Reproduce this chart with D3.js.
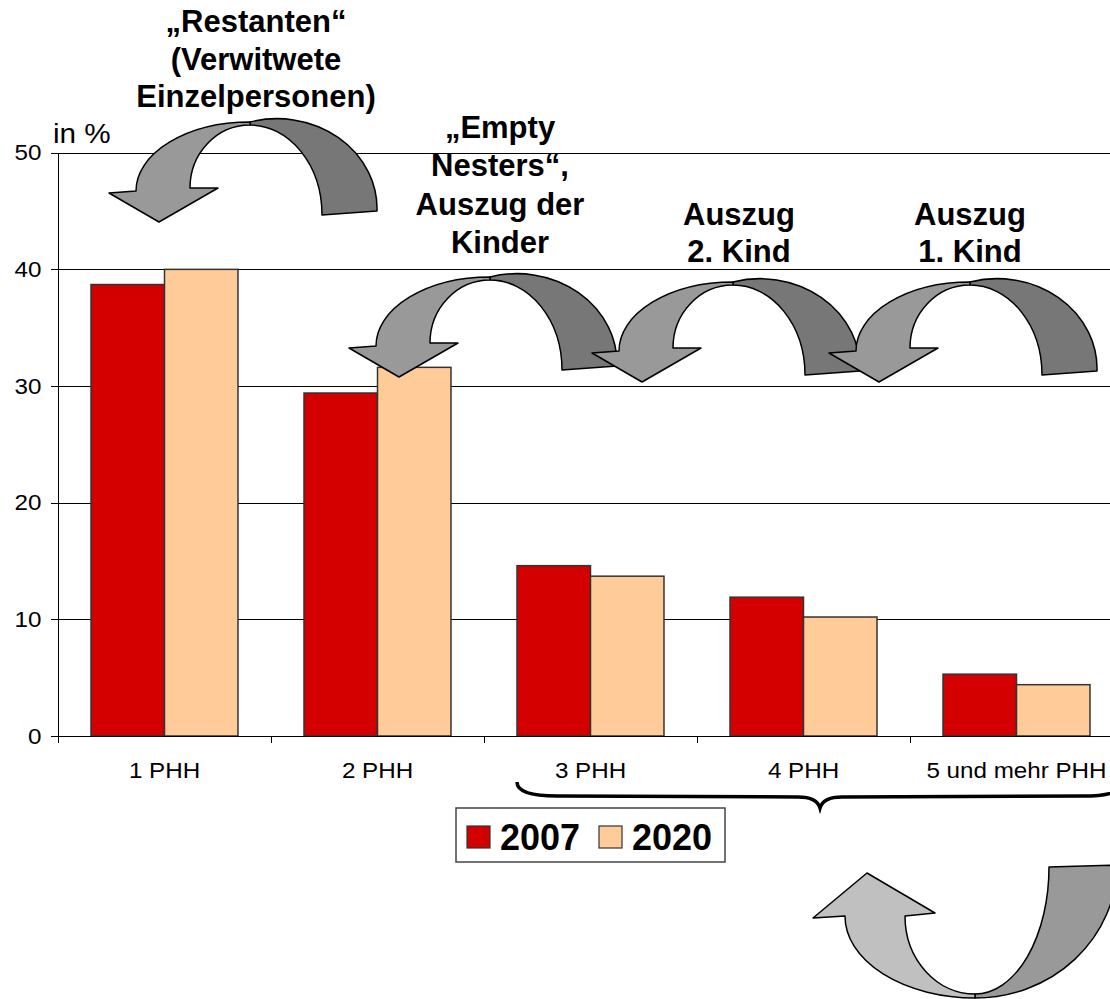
<!DOCTYPE html>
<html lang="de">
<head>
<meta charset="utf-8">
<title>Haushalte 2007 / 2020</title>
<script src="https://cdn.jsdelivr.net/npm/d3@7/dist/d3.min.js"></script>
<style>
  body { margin: 0; background: #fff; }
  text { font-family: "Liberation Sans", Arial, sans-serif; fill: #000; }
  .grille line { stroke: #000; stroke-width: 1px; shape-rendering: crispEdges; }
  .grille path { display: none; }
  .axe path, .axe line { stroke: #000; stroke-width: 1px; shape-rendering: crispEdges; }
  .axe text, .labels text { font-size: 22px; }
  .barre { stroke: #333; stroke-width: 1.5px; }
  .note { font-size: 31px; font-weight: bold; }
  .fleche path { stroke: #000; stroke-width: 1.5px; stroke-linejoin: round; }
</style>
</head>
<body>
<svg width="1110" height="999"></svg>
<script>
// données
const categories = ["1 PHH", "2 PHH", "3 PHH", "4 PHH", "5 und mehr PHH"];
const series = ["2007", "2020"];
const values2007 = [38.7, 29.4, 14.6, 11.9, 5.3];
const values2020 = [40.0, 31.6, 13.7, 10.2, 4.4];
const yTicks = [0, 10, 20, 30, 40, 50];
const seriesColors = ["#d40000", "#ffcc99"];

const notes = [
  ["\u201ERestanten\u201C", "(Verwitwete", "Einzelpersonen)"],
  ["\u201EEmpty", "Nesters\u201C,", "Auszug der", "Kinder"],
  ["Auszug", "2. Kind"],
  ["Auszug", "1. Kind"]
];

const svg = d3.select("svg");

const x0 = d3.scaleBand()
  .domain(categories)
  .range([58, 1123])
  .paddingInner(0.31)
  .paddingOuter(0.155);

const x1 = d3.scaleBand()
  .domain(series)
  .range([0, x0.bandwidth()]);

const xEdge = d3.scaleLinear()
  .domain([0, categories.length])
  .range(x0.range());

const y = d3.scaleLinear()
  .domain([0, 50])
  .range([736, 152.7]);

// grille
svg.append("g")
  .classed("grille", true)
  .attr("transform", "translate(58,0)")
  .call(d3.axisLeft(y).tickValues(yTicks).tickFormat("").tickSize(-(1123 - 58)));

// barres
const table = categories.map((c, i) => ({cat: c, vals: [values2007[i], values2020[i]]}));

svg.append("g")
  .selectAll("g")
  .data(table)
  .enter()
  .append("g")
    .attr("transform", d => "translate(" + x0(d.cat) + ",0)")
  .selectAll("rect")
  .data(d => d.vals.map((v, k) => ({s: series[k], v: v, k: k})))
  .enter()
  .append("rect")
    .classed("barre", true)
    .attr("x", d => x1(d.s))
    .attr("width", x1.bandwidth())
    .attr("y", d => y(d.v))
    .attr("height", d => y(0) - y(d.v))
    .style("fill", d => seriesColors[d.k]);

// axe des ordonnées
const axeY = svg.append("g")
  .classed("axe", true)
  .attr("transform", "translate(58,0)")
  .call(d3.axisLeft(y).tickValues(yTicks).tickSize(7).tickPadding(8).tickSizeOuter(0));
axeY.selectAll("text").attr("transform", "scale(1.1,1)");

// axe des abscisses : traits aux limites des catégories
svg.append("g")
  .classed("axe", true)
  .attr("transform", "translate(0," + y(0) + ")")
  .call(d3.axisBottom(xEdge).tickValues(d3.range(categories.length + 1)).tickFormat("").tickSize(7).tickSizeOuter(0));

const labels = svg.append("g")
  .classed("labels", true)
  .attr("transform", "translate(0," + y(0) + ")")
  .call(d3.axisBottom(x0).tickSize(0));
labels.select(".domain").remove();
labels.selectAll(".tick text")
  .attr("y", 42)
  .attr("dy", null)
  .attr("transform", "scale(1.1,1)");

svg.append("text")
  .attr("transform", "translate(53,143) scale(1.1,1)")
  .style("font-size", "27px")
  .text("in %");

// flèches courbes
const flecheHaut = {
  ro: [114, 69], sho: [-114, 69], lw: [-141, 71], tip: [-91, 100], rw: [-32, 66], shi: [-60, 66],
  ri: [60, 63], gap: 3, dOut: [100, 90], tOut: [127, 89], tIn: [72, 93], dIn: [72, 90]
};
const flecheBas = {
  ro: [130, 82], sho: [-130, 82], lw: [-162, 80], tip: [-108, 125], rw: [-40, 85], shi: [-70, 82],
  ri: [70, 78], gap: 4, dOut: [142, 134], tOut: [142, 133], tIn: [74, 131], dIn: [74, 127]
};

function fleche(g, sx, sy, p, flip, clair, fonce) {
  const grp = g.append("g")
    .classed("fleche", true)
    .attr("transform", "translate(" + sx + "," + sy + ")" + (flip ? " scale(1,-1)" : ""));
  grp.append("path")
    .attr("d", "M0,0 A" + p.dOut + " 0 0 1 " + p.tOut + " L" + p.tIn +
               " A" + p.dIn + " 0 0 0 0," + p.gap + " Z")
    .style("fill", fonce);
  grp.append("path")
    .attr("d", "M0,0 A" + p.ro + " 0 0 0 " + p.sho + " L" + p.lw + " L" + p.tip +
               " L" + p.rw + " L" + p.shi + " A" + p.ri + " 0 0 1 0," + p.gap + " Z")
    .style("fill", clair);
}

const fleches = svg.append("g");
fleche(fleches, 250, 122, flecheHaut, false, "#999999", "#777777");
fleche(fleches, 490, 277, flecheHaut, false, "#999999", "#777777");
fleche(fleches, 733, 282, flecheHaut, false, "#999999", "#777777");
fleche(fleches, 970, 282, flecheHaut, false, "#999999", "#777777");
fleche(fleches, 975, 998, flecheBas, true, "#c0c0c0", "#999999");

// textes
const notePos = [[256, 32, 37.5], [500, 138, 38.3], [739, 225, 37], [970, 225, 37]];
notes.forEach((lignes, i) => {
  const t = svg.append("text")
    .classed("note", true)
    .attr("text-anchor", "middle");
  lignes.forEach((l, j) => {
    t.append("tspan")
      .attr("x", notePos[i][0])
      .attr("y", notePos[i][1] + j * notePos[i][2])
      .text(l);
  });
});

// accolade sous 3 à 5 PHH
const bL = x0("3 PHH"), bR = x0.range()[1], bM = (bL + bR) / 2;
svg.append("path")
  .attr("d", "M" + bL + ",782 C" + bL + ",792 " + (bL + 15) + ",796 " + (bL + 40) + ",796" +
             " L" + (bM - 22) + ",797 C" + (bM - 8) + ",797 " + (bM - 2) + ",801 " + bM + ",808" +
             " C" + (bM + 2) + ",801 " + (bM + 8) + ",797 " + (bM + 22) + ",797" +
             " L" + (bR - 40) + ",796 C" + (bR - 15) + ",796 " + bR + ",792 " + bR + ",782")
  .style("fill", "none")
  .style("stroke", "#000")
  .style("stroke-width", 3.5);

// légende
const legende = svg.append("g").attr("transform", "translate(456,808)");
legende.append("rect")
  .attr("width", 269)
  .attr("height", 54)
  .style("fill", "#fff")
  .style("stroke", "#444")
  .style("stroke-width", 1.5);
const item = legende.selectAll("g.item")
  .data(series)
  .enter()
  .append("g")
    .classed("item", true)
    .attr("transform", (d, i) => "translate(" + (11 + i * 132) + ",0)");
item.append("rect")
  .attr("y", 18)
  .attr("width", 23)
  .attr("height", 22)
  .style("fill", (d, i) => seriesColors[i])
  .style("stroke", "#333")
  .style("stroke-width", 1.2);
item.append("text")
  .attr("x", 33)
  .attr("y", 42)
  .style("font-size", "36px")
  .style("font-weight", "bold")
  .text(d => d);
</script>
</body>
</html>
